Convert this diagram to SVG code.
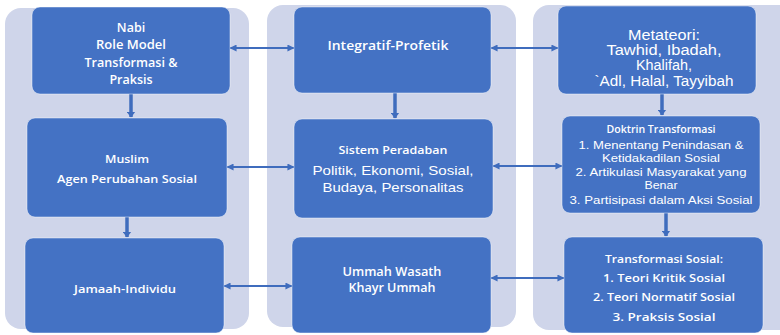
<svg xmlns="http://www.w3.org/2000/svg" width="780" height="335" viewBox="0 0 780 335">
<defs>
<marker id="ah" viewBox="0 0 8 8" refX="7.5" refY="4" markerWidth="7" markerHeight="7" markerUnits="userSpaceOnUse" orient="auto-start-reverse">
<path d="M0,0 L8,4 L0,8 Z" fill="#3f6cbd"/>
</marker>
<marker id="dh" viewBox="0 0 6 9" refX="5.5" refY="4.5" markerWidth="6" markerHeight="9" markerUnits="userSpaceOnUse" orient="auto">
<path d="M0,0 L6,4.5 L0,9 Z" fill="#3f6cbd"/>
</marker>
<style>
.col{fill:#cfd5ea}
.node{fill:#4472c4;stroke:#ffffff;stroke-opacity:0.45;stroke-width:1}
.t{fill:#ffffff;text-anchor:middle;dominant-baseline:central}
.os{font-family:"Open Sans","Noto Sans","Liberation Sans",sans-serif;font-weight:600}
.ar{font-family:"Liberation Sans",Arial,sans-serif}
.h{stroke:#3f6cbd;stroke-width:2;fill:none;marker-start:url(#ah);marker-end:url(#ah)}
.v{stroke:#3f6cbd;stroke-width:3.5;fill:none;marker-end:url(#dh)}
</style>
</defs>
<rect width="780" height="335" fill="#ffffff"/>
<g id="columns">
<rect class="col" x="5" y="8" width="244" height="321" rx="16"/>
<rect class="col" x="267" y="5" width="249" height="322" rx="16"/>
<rect class="col" x="533" y="5" width="262" height="325" rx="16"/>
</g>
<g id="connectors">
<line class="h" x1="230" y1="48" x2="294" y2="48"/>
<line class="h" x1="491" y1="48" x2="558" y2="48"/>
<line class="h" x1="227" y1="167" x2="294" y2="167"/>
<line class="h" x1="493" y1="166" x2="562" y2="166"/>
<line class="h" x1="224" y1="286" x2="292" y2="286"/>
<line class="h" x1="491" y1="278" x2="564" y2="278"/>
<line class="v" x1="131" y1="94" x2="131" y2="117"/>
<line class="v" x1="127" y1="217" x2="127" y2="237"/>
<line class="v" x1="395" y1="93" x2="395" y2="118"/>
<line class="v" x1="662" y1="94" x2="662" y2="115"/>
<line class="v" x1="666" y1="213" x2="666" y2="236"/>
</g>
<g id="nabi">
<rect class="node" x="32" y="7" width="198" height="87" rx="8"/>
<text class="t os" font-size="12.5" x="131" y="27">Nabi</text>
<text class="t os" font-size="12.5" x="131" y="44" textLength="70" lengthAdjust="spacingAndGlyphs">Role Model</text>
<text class="t os" font-size="12.5" x="131" y="62" textLength="93" lengthAdjust="spacingAndGlyphs">Transformasi &amp;</text>
<text class="t os" font-size="12.5" x="131" y="79">Praksis</text>
</g>
<g id="muslim">
<rect class="node" x="27" y="118" width="200" height="99" rx="8"/>
<text class="t os" font-size="11.5" x="127" y="158" textLength="44" lengthAdjust="spacingAndGlyphs">Muslim</text>
<text class="t os" font-size="11.5" x="127" y="178" textLength="140" lengthAdjust="spacingAndGlyphs">Agen Perubahan Sosial</text>
</g>
<g id="jamaah">
<rect class="node" x="25" y="238" width="199" height="95" rx="8"/>
<text class="t os" font-size="11.5" x="125" y="288" textLength="102" lengthAdjust="spacingAndGlyphs">Jamaah-Individu</text>
</g>
<g id="integratif">
<rect class="node" x="294" y="7" width="197" height="86" rx="8"/>
<text class="t os" font-size="12.5" x="388" y="45" textLength="121" lengthAdjust="spacingAndGlyphs">Integratif-Profetik</text>
</g>
<g id="sistem">
<rect class="node" x="294" y="119" width="199" height="99" rx="8"/>
<text class="t os" font-size="11" x="393" y="149" textLength="109" lengthAdjust="spacingAndGlyphs">Sistem Peradaban</text>
<text class="t ar" font-size="13.5" x="393" y="170" textLength="161" lengthAdjust="spacingAndGlyphs">Politik, Ekonomi, Sosial,</text>
<text class="t ar" font-size="13.5" x="393" y="187" textLength="141" lengthAdjust="spacingAndGlyphs">Budaya, Personalitas</text>
</g>
<g id="ummah">
<rect class="node" x="292" y="237" width="199" height="96" rx="8"/>
<text class="t os" font-size="12" x="392" y="271" textLength="99" lengthAdjust="spacingAndGlyphs">Ummah Wasath</text>
<text class="t os" font-size="12" x="392" y="287" textLength="87" lengthAdjust="spacingAndGlyphs">Khayr Ummah</text>
</g>
<g id="metateori">
<rect class="node" x="558" y="6" width="198" height="88" rx="8"/>
<text class="t ar" font-size="14" x="664" y="35" textLength="72" lengthAdjust="spacingAndGlyphs">Metateori:</text>
<text class="t ar" font-size="14" x="664" y="50" textLength="115" lengthAdjust="spacingAndGlyphs">Tawhid, Ibadah,</text>
<text class="t ar" font-size="14" x="664" y="65" textLength="56" lengthAdjust="spacingAndGlyphs">Khalifah,</text>
<text class="t ar" font-size="14" x="664" y="81" textLength="139" lengthAdjust="spacingAndGlyphs">`Adl, Halal, Tayyibah</text>
</g>
<g id="doktrin">
<rect class="node" x="562" y="116" width="198" height="97" rx="8"/>
<text class="t os" font-size="10" x="661" y="129" textLength="109" lengthAdjust="spacingAndGlyphs">Doktrin Transformasi</text>
<text class="t ar" font-size="11" x="661" y="145" textLength="165" lengthAdjust="spacingAndGlyphs">1. Menentang Penindasan &amp;</text>
<text class="t ar" font-size="11" x="661" y="158" textLength="118" lengthAdjust="spacingAndGlyphs">Ketidakadilan Sosial</text>
<text class="t ar" font-size="11" x="661" y="172" textLength="171" lengthAdjust="spacingAndGlyphs">2. Artikulasi Masyarakat yang</text>
<text class="t ar" font-size="11" x="661" y="185" textLength="33" lengthAdjust="spacingAndGlyphs">Benar</text>
<text class="t ar" font-size="11" x="661" y="200" textLength="183" lengthAdjust="spacingAndGlyphs">3. Partisipasi dalam Aksi Sosial</text>
</g>
<g id="transformasi-sosial">
<rect class="node" x="564" y="237" width="199" height="96" rx="8"/>
<text class="t os" font-size="11.5" x="664" y="258" textLength="118" lengthAdjust="spacingAndGlyphs">Transformasi Sosial:</text>
<text class="t os" font-size="11.5" x="664" y="277" textLength="122" lengthAdjust="spacingAndGlyphs">1. Teori Kritik Sosial</text>
<text class="t os" font-size="11.5" x="664" y="296" textLength="142" lengthAdjust="spacingAndGlyphs">2. Teori Normatif Sosial</text>
<text class="t os" font-size="11.5" x="664" y="316" textLength="103" lengthAdjust="spacingAndGlyphs">3. Praksis  Sosial</text>
</g>
</svg>
